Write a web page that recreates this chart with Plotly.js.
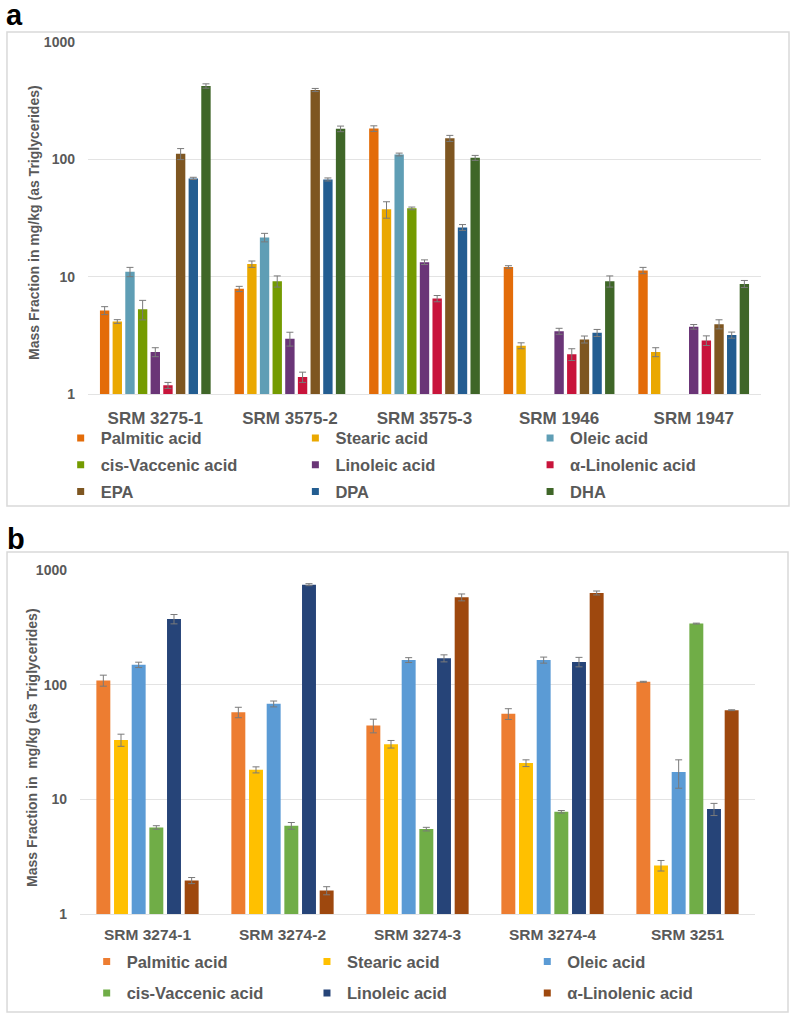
<!DOCTYPE html>
<html><head><meta charset="utf-8">
<script src="https://cdn.plot.ly/plotly-3.0.1.min.js"></script>
<style>
html,body{margin:0;padding:0;background:#fff;}
#a{position:absolute;left:0;top:0;width:800px;height:512px;}
#b{position:absolute;left:0;top:512px;width:800px;height:513px;}
</style></head><body>
<div id="a"></div><div id="b"></div>
<script>
// ---------- Panel a data ----------
var categoriesA = ['SRM 3275-1', 'SRM 3575-2', 'SRM 3575-3', 'SRM 1946', 'SRM 1947'];
var acidsA = ['Palmitic acid', 'Stearic acid', 'Oleic acid', 'cis-Vaccenic acid', 'Linoleic acid', 'α-Linolenic acid', 'EPA', 'DPA', 'DHA'];
var palmiticA = [5.15, 7.87, 183, 12.1, 11.3];
var palmiticErrA = [0.4, 0.4, 10, 0.3, 0.7];
var stearicA = [4.15, 12.8, 37.5, 2.58, 2.28];
var stearicErrA = [0.15, 0.8, 6, 0.15, 0.2];
var oleicA = [11.0, 21.6, 110, null, null];
var oleicErrA = [1.0, 1.8, 3, null, null];
var cisVaccenicA = [5.28, 9.15, 38.2, null, null];
var cisVaccenicErrA = [1.0, 1.0, 1, null, null];
var linoleicA = [2.28, 2.96, 13.3, 3.43, 3.74];
var linoleicErrA = [0.2, 0.4, 0.6, 0.2, 0.17];
var alphaLinolenicA = [1.185, 1.395, 6.51, 2.18, 2.86];
var alphaLinolenicErrA = [0.07, 0.14, 0.4, 0.25, 0.27];
var epaA = [111.5, 390, 151, 2.92, 3.94];
var epaErrA = [12, 12, 9, 0.2, 0.35];
var dpaA = [68.8, 67.4, 26.3, 3.32, 3.18];
var dpaErrA = [1.5, 2, 1.5, 0.23, 0.19];
var dhaA = [422, 182, 103, 9.15, 8.68];
var dhaErrA = [18, 10, 5, 1.0, 0.6];
var colorsA = ['#E36C09', '#EAA800', '#5F9EB5', '#749B00', '#6A3577', '#C8143B', '#7E5621', '#235D91', '#3F6628'];

// ---------- Panel b data ----------
var categoriesB = ['SRM 3274-1', 'SRM 3274-2', 'SRM 3274-3', 'SRM 3274-4', 'SRM 3251'];
var acidsB = ['Palmitic acid', 'Stearic acid', 'Oleic acid', 'cis-Vaccenic acid', 'Linoleic acid', 'α-Linolenic acid'];
var palmiticB = [109, 57.5, 44.0, 55.7, 106];
var palmiticErrB = [12, 6, 6, 6, 1];
var stearicB = [33.0, 18.1, 30.3, 20.7, 2.65];
var stearicErrB = [4, 1.1, 2.3, 1.4, 0.28];
var oleicB = [149, 68.0, 164, 164, 17.3];
var oleicErrB = [8, 4, 8, 10, 4.8];
var cisVaccenicB = [5.69, 5.88, 5.50, 7.79, 341];
var cisVaccenicErrB = [0.2, 0.4, 0.2, 0.2, 3];
var linoleicB = [374, 745, 170, 158, 8.22];
var linoleicErrB = [35, 15, 12, 15, 1.0];
var alphaLinolenicB = [1.96, 1.60, 578, 631, 59.9];
var alphaLinolenicErrB = [0.12, 0.13, 40, 25, 0.5];
var colorsB = ['#ED7D31', '#FFC000', '#5B9BD5', '#70AD47', '#264478', '#9E480E'];

var yTickVals = [1, 10, 100, 1000];
var yTickText = ['1', '10', '100', '1000'];
var yTitleA = 'Mass Fraction in mg/kg (as Triglycerides)';
var yTitleB = 'Mass Fraction in\u00a0 mg/kg (as Triglycerides)';

var FONT = 'Arial, "Liberation Sans", Helvetica, sans-serif';
var GRAY = '#595959';

function buildTraces(cats, names, vals, errs, colors, legendIds) {
  var traces = [];
  for (var i = 0; i < names.length; i++) {
    traces.push({
      type: 'bar', x: cats, y: vals[i], name: names[i], showlegend: false,
      marker: {color: colors[i]},
      error_y: {type: 'data', array: errs[i], visible: true, color: '#7A7A7A', thickness: 1, width: 3.5},
      hovertemplate: '%{x}<br>' + names[i] + ': %{y}<extra></extra>'
    });
  }
  // legend entries (small square swatches)
  for (var j = 0; j < names.length; j++) {
    traces.push({
      type: 'scatter', mode: 'markers', x: [null], y: [null], name: names[j],
      marker: {symbol: 'square', size: 7, color: colors[j]},
      legend: legendIds[j], showlegend: true, hoverinfo: 'skip'
    });
  }
  return traces;
}

function leg(x, y, ew) {
  return {orientation: 'h', x: x, y: y, xanchor: 'left', yanchor: 'middle',
    entrywidth: ew, entrywidthmode: 'pixels', traceorder: 'normal',
    font: {family: FONT, size: 16.5, weight: 'bold', color: GRAY},
    bgcolor: 'rgba(0,0,0,0)', borderwidth: 0};
}

function baseLayout(h, m, cats, tickSize, tickStandoff, bargap, bargroupgap) {
  m.autoexpand = false;
  return {
    width: 800, height: h, margin: m,
    paper_bgcolor: '#ffffff', plot_bgcolor: '#ffffff',
    barmode: 'group', bargap: bargap, bargroupgap: bargroupgap,
    font: {family: FONT, color: GRAY},
    xaxis: {type: 'category', categoryorder: 'array', categoryarray: cats,
      showgrid: false, zeroline: false, showline: true, linecolor: '#E3E3E3', linewidth: 1,
      ticks: '', ticklabelstandoff: tickStandoff, automargin: false,
      tickfont: {family: FONT, size: tickSize, weight: 'bold', color: GRAY}, fixedrange: true},
    yaxis: {type: 'log', range: [0, 3], tickvals: yTickVals, ticktext: yTickText,
      showgrid: true, gridcolor: '#E3E3E3', gridwidth: 1, zeroline: false, showline: false,
      ticks: '', ticklabelstandoff: 12, automargin: false,
      tickfont: {family: FONT, size: 14, weight: 'bold', color: GRAY},
      fixedrange: true},
    showlegend: true
  };
}

// ---------- Panel a ----------
var valsA = [palmiticA, stearicA, oleicA, cisVaccenicA, linoleicA, alphaLinolenicA, epaA, dpaA, dhaA];
var errsA = [palmiticErrA, stearicErrA, oleicErrA, cisVaccenicErrA, linoleicErrA, alphaLinolenicErrA, epaErrA, dpaErrA, dhaErrA];
var legIdsA = ['legend', 'legend', 'legend', 'legend2', 'legend2', 'legend2', 'legend3', 'legend3', 'legend3'];
var tracesA = buildTraces(categoriesA, acidsA, valsA, errsA, colorsA, legIdsA);
var layoutA = baseLayout(512, {l: 88, r: 39, t: 42, b: 118}, categoriesA, 17, 9, 0.153, 0.26);
layoutA.legend = leg(-0.0406, -0.1259, 189.7);
layoutA.legend2 = leg(-0.0406, -0.2017, 189.7);
layoutA.legend3 = leg(-0.0406, -0.2776, 189.7);
layoutA.shapes = [{type: 'rect', xref: 'paper', yref: 'paper', x0: -0.1204, x1: 1.0416, y0: -0.3182, y1: 1.0284,
  line: {color: '#D9D9D9', width: 1.5}, fillcolor: 'rgba(0,0,0,0)', layer: 'below'}];
layoutA.annotations = [
  {text: 'a', xref: 'paper', yref: 'paper', x: -0.1085, y: 1.0776, xanchor: 'center', yanchor: 'middle',
    showarrow: false, font: {family: FONT, size: 29, weight: 'bold', color: '#000000'}},
  {text: yTitleA, xref: 'paper', yref: 'paper', x: -0.081, y: 0.4872, xanchor: 'center', yanchor: 'middle',
    textangle: -90, showarrow: false, font: {family: FONT, size: 14, weight: 'bold', color: GRAY}}
];
Plotly.newPlot('a', tracesA, layoutA, {displayModeBar: false, staticPlot: true});

// ---------- Panel b ----------
var valsB = [palmiticB, stearicB, oleicB, cisVaccenicB, linoleicB, alphaLinolenicB];
var errsB = [palmiticErrB, stearicErrB, oleicErrB, cisVaccenicErrB, linoleicErrB, alphaLinolenicErrB];
var legIdsB = ['legend', 'legend', 'legend', 'legend2', 'legend2', 'legend2'];
var tracesB = buildTraces(categoriesB, acidsB, valsB, errsB, colorsB, legIdsB);
var layoutB = baseLayout(513, {l: 80, r: 45, t: 58, b: 111}, categoriesB, 15.5, 6, 0.215, 0.21);
layoutB.legend = leg(0.0099, -0.1387, 175.3);
layoutB.legend2 = leg(0.0099, -0.2305, 175.3);
layoutB.shapes = [{type: 'rect', xref: 'paper', yref: 'paper', x0: -0.1081, x1: 1.0489, y0: -0.2849, y1: 1.0523,
  line: {color: '#D9D9D9', width: 1.5}, fillcolor: 'rgba(0,0,0,0)', layer: 'below'}];
layoutB.annotations = [
  {text: 'b', xref: 'paper', yref: 'paper', x: -0.0948, y: 1.0901, xanchor: 'center', yanchor: 'middle',
    showarrow: false, font: {family: FONT, size: 29, weight: 'bold', color: '#000000'}},
  {text: yTitleB, xref: 'paper', yref: 'paper', x: -0.0711, y: 0.4826, xanchor: 'center', yanchor: 'middle',
    textangle: -90, showarrow: false, font: {family: FONT, size: 14, weight: 'bold', color: GRAY}}
];
Plotly.newPlot('b', tracesB, layoutB, {displayModeBar: false, staticPlot: true});
</script>
</body></html>
